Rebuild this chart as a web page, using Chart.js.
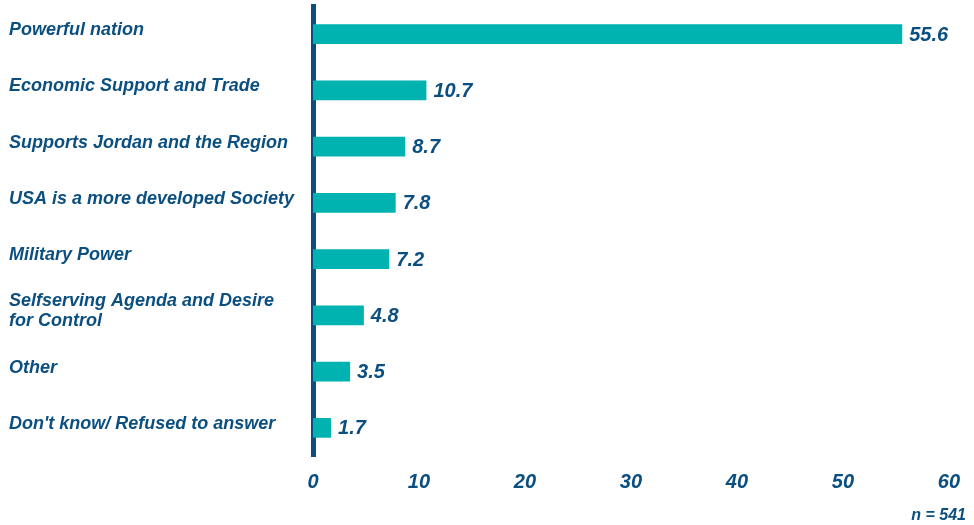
<!DOCTYPE html>
<html>
<head>
<meta charset="utf-8">
<script src="https://cdn.jsdelivr.net/npm/chart.js@4"></script>
<style>
    html, body { margin: 0; padding: 0; background: #ffffff; }
    #wrap { width: 974px; height: 525px; position: relative; }
</style>
</head>
<body>
<div id="wrap"><canvas id="BarChart"></canvas></div>
<script>
// data
var categories = [
    'Powerful nation',
    'Economic Support and Trade',
    'Supports Jordan and the Region',
    'USA is a more developed Society',
    'Military Power',
    ['Selfserving Agenda and Desire', 'for Control'],
    'Other',
    "Don't know/ Refused to answer"
];
var percents = [55.6, 10.7, 8.7, 7.8, 7.2, 4.8, 3.5, 1.7];
var xTicks = [0, 10, 20, 30, 40, 50, 60];
var sampleNote = 'n = 541';

var TEAL = '#00b2b0';
var NAVY = '#0b4f80';
var FONT = '"Liberation Sans", Arial, sans-serif';

// value labels next to the bars + the n note
var valueLabels = {
    id: 'valueLabels',
    afterDatasetsDraw: function (chart) {
        var ctx = chart.ctx;
        var meta = chart.getDatasetMeta(0);
        ctx.save();
        ctx.fillStyle = NAVY;
        ctx.font = 'italic bold 20px ' + FONT;
        ctx.textAlign = 'left';
        ctx.textBaseline = 'middle';
        meta.data.forEach(function (bar, i) {
            ctx.fillText(percents[i].toFixed(1), bar.x + 7, bar.y + 1);
        });
        ctx.font = 'italic bold 16px ' + FONT;
        ctx.textAlign = 'right';
        ctx.textBaseline = 'alphabetic';
        ctx.fillText(sampleNote, 966, 520);
        ctx.restore();
    }
};

var ctx = document.getElementById('BarChart').getContext('2d');
var chart1 = new Chart(ctx, {
    type: 'bar',
    data: {
        labels: categories,
        datasets: [{
            data: percents,
            backgroundColor: TEAL,
            borderWidth: 0,
            barPercentage: 0.7,
            categoryPercentage: 0.5
        }]
    },
    options: {
        indexAxis: 'y',
        responsive: true,
        maintainAspectRatio: false,
        animation: false,
        layout: { padding: { left: 9, top: 6, right: 6, bottom: 17 } },
        scales: {
            x: {
                min: 0,
                max: 60,
                afterBuildTicks: function (axis) {
                    axis.ticks = xTicks.map(function (v) { return { value: v }; });
                },
                grid: { display: false, drawTicks: false },
                border: { display: false },
                ticks: {
                    color: NAVY,
                    padding: 14,
                    font: { family: FONT, size: 20, style: 'italic', weight: 'bold' }
                }
            },
            y: {
                afterFit: function (axis) {
                    axis.width = 304;
                    axis.paddingTop = 0;
                    axis.paddingBottom = 0;
                },
                grid: { display: false, drawTicks: false },
                border: { display: true, color: NAVY, width: 5 },
                ticks: {
                    crossAlign: 'far',
                    labelOffset: -4,
                    color: NAVY,
                    font: { family: FONT, size: 18, style: 'italic', weight: 'bold', lineHeight: 1.1 }
                }
            }
        },
        // to hide the label
        plugins: {
            legend: { display: false },
            tooltip: { enabled: false }
        }
    },
    plugins: [valueLabels]
});
</script>
</body>
</html>
